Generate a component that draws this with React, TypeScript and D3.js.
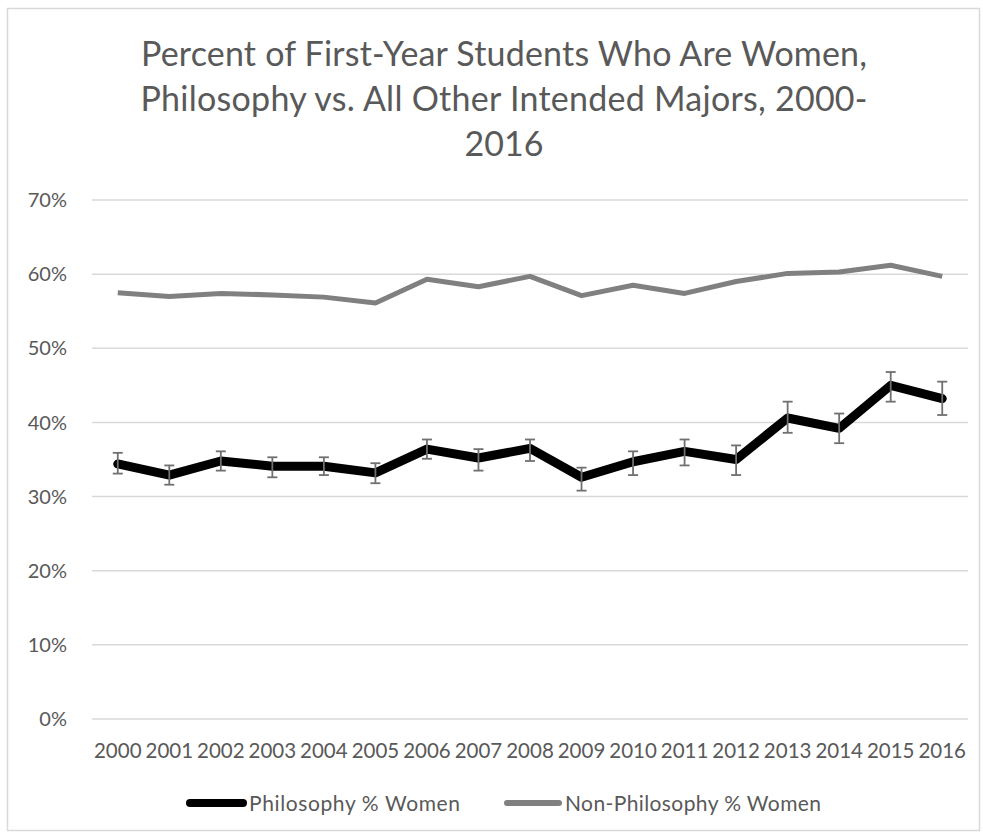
import React, { useEffect, useRef } from 'react';
import * as d3 from 'd3';

const years = ['2000', '2001', '2002', '2003', '2004', '2005', '2006', '2007', '2008',
  '2009', '2010', '2011', '2012', '2013', '2014', '2015', '2016'];
const philosophy = [34.4, 32.9, 34.8, 34.1, 34.1, 33.2, 36.4, 35.2, 36.5, 32.6, 34.7, 36.1, 35.0, 40.6, 39.2, 45.0, 43.2];
const philLow = [33.1, 31.6, 33.5, 32.6, 32.9, 31.8, 35.1, 33.5, 34.8, 30.8, 32.9, 34.2, 32.9, 38.6, 37.2, 42.8, 41.0];
const philHigh = [35.9, 34.2, 36.1, 35.3, 35.3, 34.5, 37.7, 36.4, 37.7, 33.9, 36.1, 37.7, 36.9, 42.8, 41.2, 46.8, 45.5];
const nonPhilosophy = [57.5, 57.0, 57.4, 57.2, 56.9, 56.1, 59.3, 58.3, 59.7, 57.1, 58.5, 57.4, 59.0, 60.1, 60.3, 61.2, 59.7];
const yTicks = [0, 10, 20, 30, 40, 50, 60, 70];
const titleLines = [
  'Percent of First-Year Students Who Are Women,',
  'Philosophy vs. All Other Intended Majors, 2000-',
  '2016',
];
const seriesNames = ['Philosophy % Women', 'Non-Philosophy % Women'];

function App() {
  const ref = useRef<SVGSVGElement>(null);

  useEffect(() => {
    const svg = d3.select(ref.current);
    svg.selectAll('*').remove();

    const font = 'Lato, "Open Sans", sans-serif';
    const textColor = '#595959';
    const left = 92, right = 968, top = 200, bottom = 719;

    // frame
    svg.append('rect')
      .attr('x', 7.5).attr('y', 8.5)
      .attr('width', 972).attr('height', 822)
      .attr('fill', '#fff')
      .attr('stroke', '#d9d9d9')
      .attr('stroke-width', 1.5);

    // title (Excel wraps it in three lines)
    const titleWidths = [726, 727, null];
    svg.append('g')
      .selectAll('text')
      .data(titleLines)
      .enter().append('text')
      .attr('x', 504)
      .attr('y', (d, i) => 66 + i * 45)
      .attr('text-anchor', 'middle')
      .attr('font-family', font)
      .attr('font-size', 34)
      .attr('fill', textColor)
      .attr('textLength', (d, i) => titleWidths[i])
      .text(d => d);

    const x = d3.scaleBand()
      .domain(years)
      .range([left, right]);
    const y = d3.scaleLinear()
      .domain([0, 70])
      .range([bottom, top]);
    const cx = (d: string) => (x(d) as number) + x.bandwidth() / 2;

    // gridlines
    svg.append('g')
      .selectAll('line')
      .data(yTicks)
      .enter().append('line')
      .attr('x1', left).attr('x2', right)
      .attr('y1', d => y(d)).attr('y2', d => y(d))
      .attr('stroke', '#d9d9d9')
      .attr('stroke-width', 1.5);

    // y labels
    svg.append('g')
      .selectAll('text')
      .data(yTicks)
      .enter().append('text')
      .attr('x', 67)
      .attr('y', d => y(d))
      .attr('dy', '0.36em')
      .attr('text-anchor', 'end')
      .attr('font-family', font)
      .attr('font-size', 20)
      .attr('fill', textColor)
      .text(d => d + '%');

    // x labels
    svg.append('g')
      .selectAll('text')
      .data(years)
      .enter().append('text')
      .attr('x', d => cx(d))
      .attr('y', 758)
      .attr('text-anchor', 'middle')
      .attr('font-family', font)
      .attr('font-size', 20.5)
      .attr('fill', textColor)
      .text(d => d);

    const line = d3.line<number>()
      .x((d, i) => cx(years[i]))
      .y(d => y(d));

    // non-philosophy line
    svg.append('path')
      .datum(nonPhilosophy)
      .attr('d', line)
      .attr('fill', 'none')
      .attr('stroke', '#808080')
      .attr('stroke-width', 5)
      .attr('stroke-linejoin', 'round');

    // philosophy line
    svg.append('path')
      .datum(philosophy)
      .attr('d', line)
      .attr('fill', 'none')
      .attr('stroke', '#000')
      .attr('stroke-width', 9)
      .attr('stroke-linejoin', 'round')
      .attr('stroke-linecap', 'round');

    // error bars
    const err = svg.append('g')
      .attr('stroke', '#707070')
      .attr('stroke-width', 1.8);
    years.forEach((yr, i) => {
      const px = cx(yr);
      err.append('line')
        .attr('x1', px).attr('x2', px)
        .attr('y1', y(philLow[i])).attr('y2', y(philHigh[i]));
      [philLow[i], philHigh[i]].forEach(v => {
        err.append('line')
          .attr('x1', px - 5).attr('x2', px + 5)
          .attr('y1', y(v)).attr('y2', y(v));
      });
    });

    // legend
    const legend = [
      { name: seriesNames[0], color: '#000', w: 8, x0: 190, x1: 243, tw: 211 },
      { name: seriesNames[1], color: '#808080', w: 6, x0: 507, x1: 559, tw: 256 },
    ];
    legend.forEach(l => {
      svg.append('line')
        .attr('x1', l.x0).attr('x2', l.x1)
        .attr('y1', 803).attr('y2', 803)
        .attr('stroke', l.color)
        .attr('stroke-width', l.w)
        .attr('stroke-linecap', 'round');
      svg.append('text')
        .attr('x', l.x1 + 6)
        .attr('y', 811)
        .attr('font-family', font)
        .attr('font-size', 21)
        .attr('fill', textColor)
        .attr('textLength', l.tw)
        .text(l.name);
    });
  }, []);

  return (
    <div style={{ position: 'absolute', left: 0, top: 0 }}>
      <svg ref={ref} width={983} height={834}></svg>
    </div>
  );
}

export default App;
